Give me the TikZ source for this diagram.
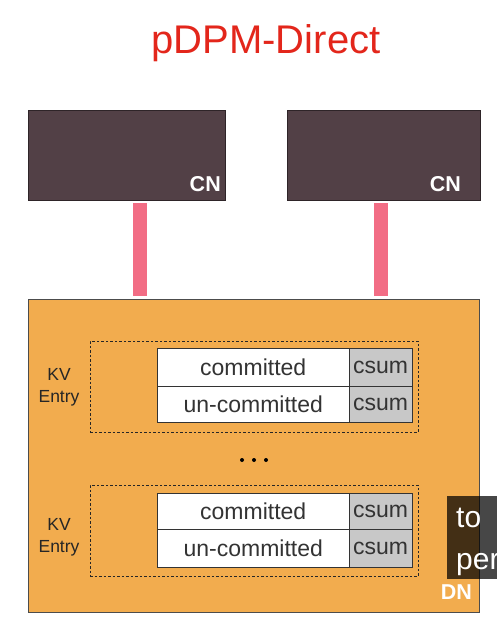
\documentclass[tikz,border=0pt]{standalone}
\usepackage{fontspec}
\setmainfont{Liberation Sans}
\definecolor{titlered}{HTML}{E3261B}
\definecolor{cnfill}{HTML}{524046}
\definecolor{cnline}{HTML}{2E2428}
\definecolor{linkpink}{HTML}{F26D85}
\definecolor{dnorange}{HTML}{F2AC4E}
\definecolor{csumgrey}{HTML}{C8C8C8}
\definecolor{celltext}{HTML}{333333}
\tikzset{
  cnbox/.style={draw=cnline, line width=0.8pt, fill=cnfill, minimum width=#1, minimum height=90pt, inner sep=0pt},
  nodelabel/.style={text=white, font=\fontsize{21.5}{24}\selectfont\bfseries, inner sep=0pt},
  linkbar/.style={draw=linkpink, line width=14pt, shorten <=3pt, shorten >=3pt},
  dnbox/.style={draw=black!70, line width=0.8pt, fill=dnorange, minimum width=451pt, minimum height=313pt, inner sep=0pt},
  entrybox/.style={draw=black!85, line width=1pt, dash pattern=on 2.5pt off 2pt, minimum width=328pt, minimum height=91pt, inner sep=0pt},
  datacell/.style={draw=black!80, line width=1pt, fill=white, minimum width=191.5pt, minimum height=#1, inner sep=0pt, text=celltext, font=\fontsize{23}{26}\selectfont},
  csumcell/.style={draw=black!80, line width=1pt, fill=csumgrey, minimum width=63pt, minimum height=#1, inner sep=0pt, text=celltext, font=\fontsize{23}{26}\selectfont},
  kvlabel/.style={align=center, text=black!85, font=\fontsize{17.5}{22}\selectfont, inner sep=0pt},
  dotmark/.style={circle, fill=black, minimum size=4pt, inner sep=0pt},
}
\begin{document}
\begin{tikzpicture}[x=1pt,y=-1pt]
\useasboundingbox (0,0) rectangle (497,618);
\fill[white] (0,0) rectangle (497,618);
% title
\node[anchor=base, text=titlered, font=\fontsize{40}{44}\selectfont, inner sep=0pt] (title) at (266,54) {pDPM-Direct};
% compute nodes
\node[cnbox=197pt] (cn1) at (126.5,155) {};
\node[cnbox=193pt] (cn2) at (383.5,155) {};
\node[nodelabel, anchor=base east] (cn1lab) at (221,191) {CN};
\node[nodelabel, anchor=base east] (cn2lab) at (461,191) {CN};
% data node
\node[dnbox] (dn) at (253.5,455.5) {};
\node[nodelabel, anchor=base east] (dnlab) at (472,599) {DN};
% links
\coordinate (l1x) at (140,0);
\coordinate (l2x) at (380.5,0);
\draw[linkbar] (cn1.south -| l1x) -- (dn.north -| l1x);
\draw[linkbar] (cn2.south -| l2x) -- (dn.north -| l2x);
% entries
\node[entrybox] (e1) at (254,386.5) {};
\node[entrybox] (e2) at (254,530.5) {};
\node[kvlabel] (kv1) at (59,387) {KV\\Entry};
\node[kvlabel] (kv2) at (59,537) {KV\\Entry};
% table 1
\node[datacell=38pt] (c1a) at (253.25,367) {committed};
\node[csumcell=38pt] (s1a) at (380.5,367) {csum};
\node[datacell=36pt] (c1b) at (253.25,404) {un-committed};
\node[csumcell=36pt] (s1b) at (380.5,404) {csum};
% table 2
\node[datacell=36pt] (c2a) at (253.25,511) {committed};
\node[csumcell=36pt] (s2a) at (380.5,511) {csum};
\node[datacell=38pt] (c2b) at (253.25,548) {un-committed};
\node[csumcell=38pt] (s2b) at (380.5,548) {csum};
% ellipsis
\node[dotmark] (d1) at (242,460) {};
\node[dotmark] (d2) at (254,460) {};
\node[dotmark] (d3) at (266,460) {};
% caption overlay
\begin{scope}
\clip (0,0) rectangle (497,618);
\fill[black, opacity=0.72] (447,496) rectangle (510,579);
\node[anchor=base west, text=white, font=\fontsize{30}{32}\selectfont, inner sep=0pt] (cap1) at (456,527) {to};
\node[anchor=base west, text=white, font=\fontsize{30}{32}\selectfont, inner sep=0pt] (cap2) at (456,569) {per};
\end{scope}
\end{tikzpicture}
\end{document}
